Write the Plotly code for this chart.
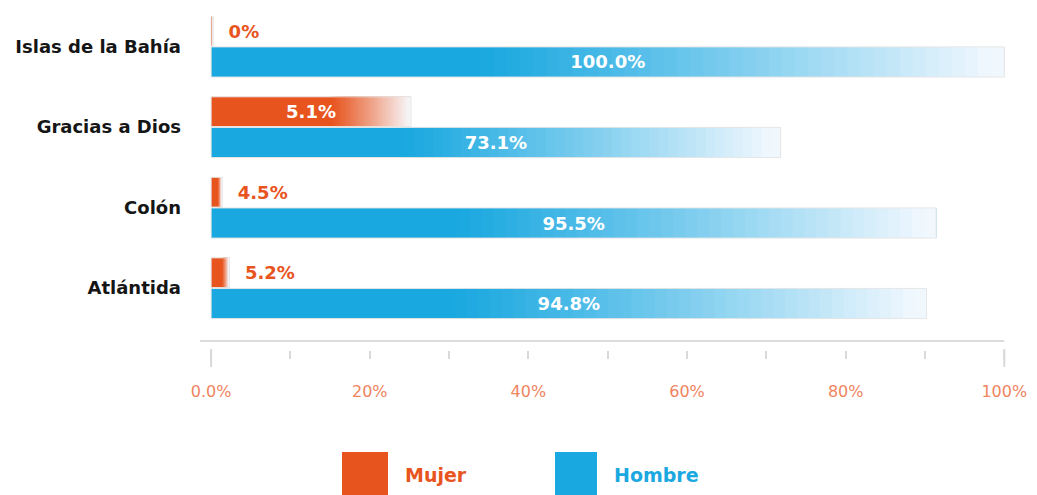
import plotly.graph_objects as go

# ---- data ----
categories = ["Islas de la Bahía", "Gracias a Dios", "Colón", "Atlántida"]
mujer_len = [0.25, 25.2, 1.4, 2.3]        # drawn bar lengths (% axis)
hombre_len = [100.0, 71.8, 91.4, 90.2]
mujer_labels = ["0%", "5.1%", "4.5%", "5.2%"]
hombre_labels = ["100.0%", "73.1%", "95.5%", "94.8%"]
tick_vals = [0, 20, 40, 60, 80, 100]
tick_text = ["0.0%", "20%", "40%", "60%", "80%", "100%"]
minor_vals = [10, 30, 50, 70, 90]

ORANGE = (232, 84, 30)
BLUE = (26, 168, 224)
FADE_TO = (247, 250, 255)
FONT = "DejaVu Sans"


def mix(c, f):
    return "rgb(%d,%d,%d)" % tuple(round(a + (b - a) * f) for a, b in zip(c, FADE_TO))


def gradient_traces(vals, color, fade_start, offset, width, n=40):
    traces = []
    steps = [0.0] + [fade_start + (1 - fade_start) * i / n for i in range(n)]
    for k, t in enumerate(steps):
        if k == 0:
            f = 0.0
        else:
            tm = t + (1 - fade_start) / n / 2
            u = (tm - fade_start) / (1 - fade_start)
            f = min(0.97, u ** 1.1)
        traces.append(go.Bar(
            y=categories, x=[v * (1 - t) for v in vals], base=[v * t for v in vals],
            orientation="h", offset=offset, width=width,
            marker=dict(color=mix(color, f), line=dict(width=0)),
            hoverinfo="skip", showlegend=False))
    return traces


fig = go.Figure()
M_OFF, M_W = -0.375, 0.37
H_OFF, H_W = 0.005, 0.375

for tr in gradient_traces(mujer_len, ORANGE, 0.6, M_OFF, M_W):
    fig.add_trace(tr)
for tr in gradient_traces(hombre_len, BLUE, 0.34, H_OFF, H_W):
    fig.add_trace(tr)

m_pos = ["inside" if v >= 10 else "outside" for v in mujer_len]
m_text = [lab if p == "inside" else "\u00a0\u00a0" + lab for lab, p in zip(mujer_labels, m_pos)]
fig.add_trace(go.Bar(
    y=categories, x=mujer_len, orientation="h", offset=M_OFF, width=M_W, name="Mujer",
    marker=dict(color="rgba(0,0,0,0)", line=dict(color="#e6e6e6", width=1)),
    text=m_text, textposition=m_pos, insidetextanchor="middle",
    insidetextfont=dict(color="white", size=18, family=FONT, weight=700),
    outsidetextfont=dict(color="#E8541E", size=18, family=FONT, weight=700),
    constraintext="none", cliponaxis=False, showlegend=False))
fig.add_trace(go.Bar(
    y=categories, x=hombre_len, orientation="h", offset=H_OFF, width=H_W, name="Hombre",
    marker=dict(color="rgba(0,0,0,0)", line=dict(color="#e6e6e6", width=1)),
    text=hombre_labels, textposition="inside", insidetextanchor="middle",
    insidetextfont=dict(color="white", size=18, family=FONT, weight=700),
    constraintext="none", cliponaxis=False, showlegend=False))

# layout geometry (page body has an 8px margin)
PAD = 8
W, H = 1037 - PAD, 495 - PAD
L, R, T, B = 200 - PAD, 20, 10 - PAD, 125
ph = H - T - B
pw = W - L - R


def px(x):
    return (x - PAD - L) / pw


def py(y):
    return (H - B - (y - PAD)) / ph


shapes = [
    dict(type="line", xref="x", yref="y domain", x0=-1.4, x1=100, y0=0, y1=0,
         line=dict(color="#dcdcdc", width=2)),
]
for v in (0, 100):
    shapes.append(dict(type="line", xref="x", yref="paper", x0=v, x1=v,
                       y0=py(349), y1=py(367), line=dict(color="#d9d9d9", width=2)))

shapes.append(dict(type="rect", xref="paper", yref="paper", x0=px(342), x1=px(388),
                   y0=py(452), y1=py(500), line=dict(width=0), fillcolor="rgb(232,84,30)"))
shapes.append(dict(type="rect", xref="paper", yref="paper", x0=px(555), x1=px(597),
                   y0=py(452), y1=py(500), line=dict(width=0), fillcolor="rgb(26,168,224)"))
annotations = [
    dict(text="Mujer", xref="paper", yref="paper", x=px(403), y=py(475), xanchor="left",
         yanchor="middle", showarrow=False,
         font=dict(color="#E8541E", size=19, family=FONT, weight=700)),
    dict(text="Hombre", xref="paper", yref="paper", x=px(612), y=py(475), xanchor="left",
         yanchor="middle", showarrow=False,
         font=dict(color="#1BA8E0", size=19, family=FONT, weight=700)),
]

fig.update_layout(
    width=W, height=H, margin=dict(l=L, r=R, t=T, b=B),
    barmode="overlay", plot_bgcolor="white", paper_bgcolor="white",
    shapes=shapes, annotations=annotations, showlegend=False,
    xaxis=dict(range=[-1.4, 101.6], anchor="free", position=py(350),
               showgrid=False, zeroline=False, showline=False,
               tickvals=tick_vals, ticktext=tick_text, ticks="outside", ticklen=8,
               tickwidth=2, tickcolor="#d9d9d9", ticklabelstandoff=19,
               tickfont=dict(color="#EF8460", size=16, family=FONT),
               minor=dict(tickvals=minor_vals, ticks="outside", ticklen=8, tickwidth=2,
                          tickcolor="#d9d9d9", showgrid=False)),
    yaxis=dict(domain=[py(341), 1], categoryorder="array", categoryarray=categories,
               range=[3.658, -0.453], showgrid=False, zeroline=False, showline=False,
               ticks="", ticklabelstandoff=18,
               tickfont=dict(color="#151515", size=18, family=FONT, weight=700)),
)

fig.write_html("out.html")
